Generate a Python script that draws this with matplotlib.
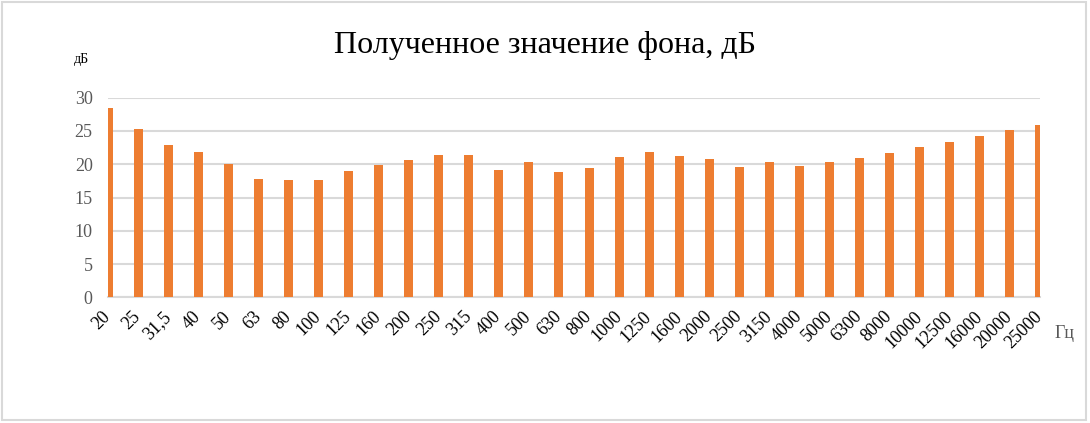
import numpy as np
import matplotlib.pyplot as plt
from matplotlib.patches import Rectangle

# частоты и измеренный фон
freqs = ['20', '25', '31,5', '40', '50', '63', '80', '100', '125', '160',
         '200', '250', '315', '400', '500', '630', '800', '1000', '1250', '1600',
         '2000', '2500', '3150', '4000', '5000', '6300', '8000', '10000', '12500',
         '16000', '20000', '25000']
levels = [28.5, 25.3, 22.9, 21.8, 20.0, 17.8, 17.6, 17.6, 19.0, 19.9,
          20.6, 21.4, 21.4, 19.1, 20.3, 18.8, 19.4, 21.1, 21.8, 21.2,
          20.8, 19.6, 20.3, 19.7, 20.3, 20.9, 21.7, 22.6, 23.3, 24.2,
          25.1, 25.9]
yticks = [0, 5, 10, 15, 20, 25, 30]

plt.rcParams['font.family'] = ['Liberation Serif', 'DejaVu Serif']

fig = plt.figure(figsize=(10.9, 4.23), dpi=100)
fig.patches.append(Rectangle((0.002, 0.006), 0.994, 0.99, transform=fig.transFigure,
                             fill=False, edgecolor='#D9D9D9', linewidth=1.5))

ax = fig.add_axes([108/1090, 0.297, 932/1090, 0.472])
x = np.arange(len(freqs))
ax.bar(x, levels, width=0.3, color='#ED7D31', zorder=3)

ax.set_xlim(0, len(freqs) - 1)
ax.set_ylim(0, 30)
ax.set_yticks(yticks)
ax.set_yticklabels([str(v) for v in yticks], fontsize=13, color='#595959')
ax.grid(axis='y', color='#D9D9D9', linewidth=1.5, zorder=0)
ax.set_axisbelow(True)

ax.set_xticks(x)
ax.set_xticklabels(freqs, fontsize=13, rotation=45, ha='right', va='center',
                   rotation_mode='anchor')
ax.tick_params(axis='both', length=0)
ax.tick_params(axis='x', pad=12)
ax.tick_params(axis='y', pad=11)

for s in ['top', 'right', 'left']:
    ax.spines[s].set_visible(False)
ax.spines['bottom'].set_color('#D9D9D9')
ax.spines['bottom'].set_linewidth(1.5)

fig.text(0.5, 1 - 46/423, 'Полученное значение фона, дБ', fontsize=23,
         ha='center', va='center')
fig.text(74/1090, 1 - 60/423, 'дБ', fontsize=10, ha='left', va='center')
fig.text(1055/1090, 1 - 333/423, 'Гц', fontsize=13, color='#595959',
         ha='left', va='center')

fig.savefig('out.png', dpi=100)
